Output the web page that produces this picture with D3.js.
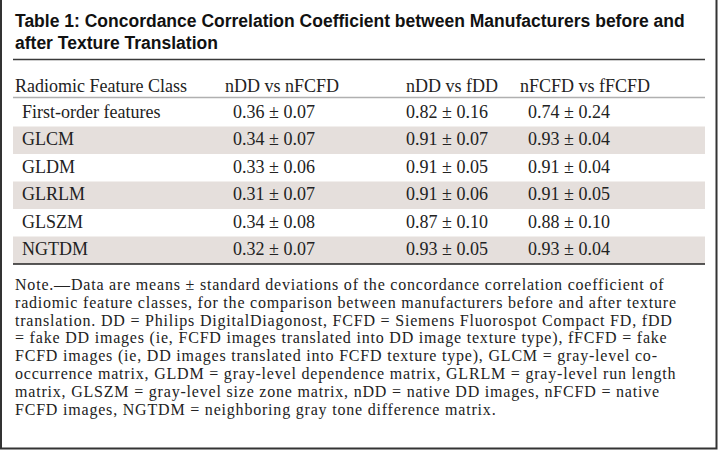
<!DOCTYPE html>
<html>
<head>
<meta charset="utf-8">
<script src="https://cdn.jsdelivr.net/npm/d3@7"></script>
<style>
  body { margin: 0; background: #fff; }
  .title { font-family: "Liberation Sans", Arial, sans-serif; font-weight: bold; font-size: 17.5px; fill: #111; }
  .cell { font-family: "Liberation Serif", "Times New Roman", serif; font-size: 18px; fill: #222; }
  .note { font-family: "Liberation Serif", "Times New Roman", serif; font-size: 16px; letter-spacing: 0.8px; fill: #222; }
</style>
</head>
<body>
<svg id="table" width="718" height="450"></svg>
<script>
const titleLines = [
    'Table 1: Concordance Correlation Coefficient between Manufacturers before and',
    'after Texture Translation'
];

const columns = ['Radiomic Feature Class', 'nDD vs nFCFD', 'nDD vs fDD', 'nFCFD vs fFCFD'];

const featureClasses = ['First-order features', 'GLCM', 'GLDM', 'GLRLM', 'GLSZM', 'NGTDM'];

// mean and sd per comparison
const nddNfcfdMean = [0.36, 0.34, 0.33, 0.31, 0.34, 0.32];
const nddNfcfdSd   = [0.07, 0.07, 0.06, 0.07, 0.08, 0.07];
const nddFddMean   = [0.82, 0.91, 0.91, 0.91, 0.87, 0.93];
const nddFddSd     = [0.16, 0.07, 0.05, 0.06, 0.10, 0.05];
const nfcfdFfcfdMean = [0.74, 0.93, 0.91, 0.91, 0.88, 0.93];
const nfcfdFfcfdSd   = [0.24, 0.04, 0.04, 0.05, 0.10, 0.04];

const noteLines = [
    'Note.\u2014Data are means \u00b1 standard deviations of the concordance correlation coefficient of',
    'radiomic feature classes, for the comparison between manufacturers before and after texture',
    'translation. DD = Philips DigitalDiagonost, FCFD = Siemens Fluorospot Compact FD, fDD',
    '= fake DD images (ie, FCFD images translated into DD image texture type), fFCFD = fake',
    'FCFD images (ie, DD images translated into FCFD texture type), GLCM = gray-level co-',
    'occurrence matrix, GLDM = gray-level dependence matrix, GLRLM = gray-level run length',
    'matrix, GLSZM = gray-level size zone matrix, nDD = native DD images, nFCFD = native',
    'FCFD images, NGTDM = neighboring gray tone difference matrix.'
];

const fmt = d3.format('.2f');
const rows = featureClasses.map((name, i) => [
    name,
    `${fmt(nddNfcfdMean[i])} \u00b1 ${fmt(nddNfcfdSd[i])}`,
    `${fmt(nddFddMean[i])} \u00b1 ${fmt(nddFddSd[i])}`,
    `${fmt(nfcfdFfcfdMean[i])} \u00b1 ${fmt(nfcfdFfcfdSd[i])}`
]);

const svg = d3.select('#table');
const left = 13, right = 705;

// row bands
const yScale = d3.scaleBand()
    .domain(featureClasses)
    .range([99, 264]);

// column starts for header and for body cells
const headerX = d3.scaleOrdinal().domain(d3.range(4)).range([15, 225, 406, 520]);
const cellX = d3.scaleOrdinal().domain(d3.range(4)).range([22, 233, 406, 528]);

svg.append('rect')
    .attr('width', 718).attr('height', 450)
    .attr('fill', '#fff');

// title
svg.selectAll('.title')
    .data(titleLines)
    .enter()
    .append('text')
    .attr('class', 'title')
    .attr('x', 15)
    .attr('y', (d, i) => 27 + i * 22)
    .text(d => d);

// shaded rows
svg.selectAll('.band')
    .data(featureClasses.filter((d, i) => i % 2 === 1))
    .enter()
    .append('rect')
    .attr('class', 'band')
    .attr('x', left)
    .attr('y', d => yScale(d))
    .attr('width', right - left)
    .attr('height', yScale.bandwidth())
    .attr('fill', '#e5dfdc');

// rules
svg.append('line')
    .attr('x1', left).attr('x2', right)
    .attr('y1', 59.5).attr('y2', 59.5)
    .attr('stroke', '#3a3a3a').attr('stroke-width', 1.5);

svg.append('line')
    .attr('x1', left).attr('x2', right)
    .attr('y1', 97.5).attr('y2', 97.5)
    .attr('stroke', '#b0b0b0').attr('stroke-width', 1.5);

svg.append('line')
    .attr('x1', left).attr('x2', right)
    .attr('y1', 264).attr('y2', 264)
    .attr('stroke', '#222').attr('stroke-width', 1.5);

// header
svg.selectAll('.head')
    .data(columns)
    .enter()
    .append('text')
    .attr('class', 'cell head')
    .attr('x', (d, i) => headerX(i))
    .attr('y', 92)
    .text(d => d);

// body
const rowGroups = svg.selectAll('.row')
    .data(rows)
    .enter()
    .append('g')
    .attr('class', 'row')
    .attr('transform', d => `translate(0, ${yScale(d[0]) + 18.5})`);

rowGroups.selectAll('text')
    .data(d => d)
    .enter()
    .append('text')
    .attr('class', 'cell')
    .attr('x', (d, i) => cellX(i))
    .text(d => d);

// note
svg.selectAll('.note')
    .data(noteLines)
    .enter()
    .append('text')
    .attr('class', 'note')
    .attr('x', 15)
    .attr('y', (d, i) => 290 + i * 17.8)
    .text(d => d);

// frame (left, right, bottom)
svg.append('path')
    .attr('d', 'M1,0 V448.5 H716.5 V0')
    .attr('fill', 'none')
    .attr('stroke', '#333')
    .attr('stroke-width', 2);
</script>
</body>
</html>
